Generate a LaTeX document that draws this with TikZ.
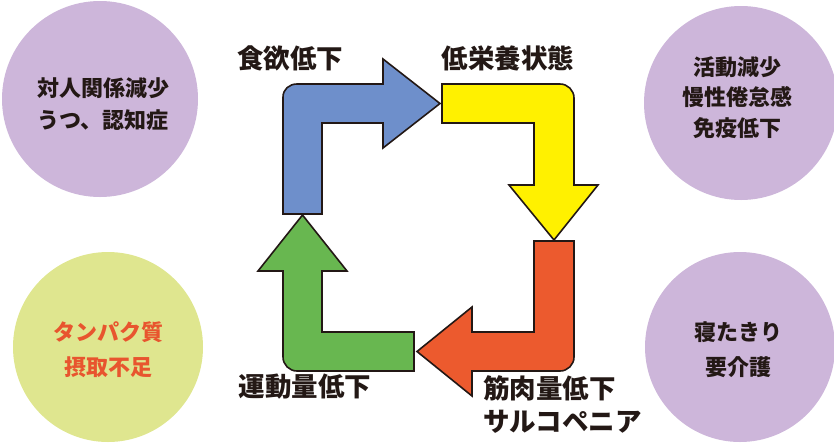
\documentclass[tikz,border=0pt]{standalone}
\usepackage{fontspec}
\newfontfamily\jp{Noto Sans CJK JP}
\definecolor{ink}{HTML}{231815}
\definecolor{purp}{HTML}{CDB6DA}
\definecolor{lime}{HTML}{DFE68F}
\definecolor{redtxt}{HTML}{E8552E}
\definecolor{ablue}{HTML}{6E8FCB}
\definecolor{ayellow}{HTML}{FFF100}
\definecolor{ared}{HTML}{EC5A2E}
\definecolor{agreen}{HTML}{68B750}
\tikzset{
  arrowshape/.style={draw=ink, line width=1.6pt, line join=miter},
  lab/.style={font=\jp\bfseries\fontsize{26.5}{30}\selectfont, text=ink, inner sep=0pt, text height=0.88em, text depth=0.12em},
  clab/.style={font=\jp\bfseries\fontsize{22}{26}\selectfont, text=ink, inner sep=0pt, text height=0.88em, text depth=0.12em},
}
\begin{document}
\begin{tikzpicture}[x=1pt, y=-1pt]
\useasboundingbox (0,0) rectangle (834,445);
% circles
\fill[purp] (100,99) circle (98);
\fill[purp] (741,103) circle (97);
\fill[lime] (108,347) circle (95);
\fill[purp] (740,347) circle (95);
% circle texts
\node[clab] (tl1) at (103,93) {対人関係減少};
\node[clab] (tl2) at (103,125) {うつ、認知症};
\node[clab] (tr1) at (737,72) {活動減少};
\node[clab] (tr2) at (737,102) {慢性倦怠感};
\node[clab] (tr3) at (737,133) {免疫低下};
\node[clab, text=redtxt] (bl1) at (108,337) {タンパク質};
\node[clab, text=redtxt] (bl2) at (108,372) {摂取不足};
\node[clab] (br1) at (738,337) {寝たきり};
\node[clab] (br2) at (738,372) {要介護};
% blue arrow
\draw[arrowshape, fill=ablue] (283,214) -- (283,97)
  .. controls (283,89.3) and (289.3,84) .. (297,84)
  -- (383,84) -- (383,59) -- (440,103.5) -- (383,148) -- (383,123)
  -- (322,123) -- (322,214) -- cycle;
% yellow arrow
\draw[arrowshape, fill=ayellow] (442,84) -- (560,84)
  .. controls (567.7,84) and (574,90.3) .. (574,98)
  -- (574,185) -- (598,185) -- (554,240) -- (509,185) -- (534,185)
  -- (534,123) -- (442,123) -- cycle;
% red arrow
\draw[arrowshape, fill=ared] (534,241) -- (574,241) -- (574,357)
  .. controls (574,364.7) and (567.7,371) .. (560,371)
  -- (472,371) -- (472,396) -- (417,351.5) -- (472,307) -- (472,332)
  -- (534,332) -- cycle;
% green arrow
\draw[arrowshape, fill=agreen] (414,332) -- (322,332) -- (322,271)
  -- (347,271) -- (302.5,215) -- (258,271) -- (283,271) -- (283,357)
  .. controls (283,364.7) and (289.3,371) .. (297,371)
  -- (414,371) -- cycle;
% arrow labels
\node[lab] (a1) at (290,65) {食欲低下};
\node[lab] (a2) at (508,65) {低栄養状態};
\node[lab, anchor=west] (a3) at (483,395) {筋肉量低下};
\node[lab, anchor=west] (a4) at (483,428) {サルコペニア};
\node[lab] (a5) at (305,393) {運動量低下};
\end{tikzpicture}
\end{document}
